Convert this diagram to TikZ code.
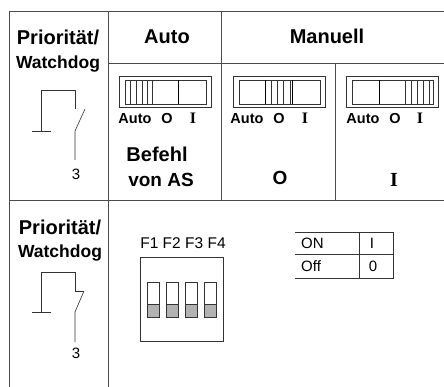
\documentclass[tikz,border=0pt]{standalone}
\usepackage{fontspec}
\setmainfont{Liberation Sans}
\newfontfamily\serifx{Liberation Serif}
\tikzset{x=1pt,y=-1pt,
 grid/.style={draw=black!70,line width=0.9pt},
 thin1/.style={draw=black!80,line width=0.6pt},
 thick1/.style={draw=black,line width=0.9pt},
 txt/.style={inner sep=0pt,anchor=base},
 head/.style={txt,font=\fontsize{20}{20}\selectfont\bfseries},
 headb/.style={txt,font=\fontsize{17.5}{18}\selectfont\bfseries},
 lab/.style={txt,font=\fontsize{14.5}{15}\selectfont\bfseries},
 labi/.style={txt,font=\fontsize{16}{16}\selectfont\bfseries\serifx},
 plain/.style={txt,font=\fontsize{15}{15}\selectfont},
 dip/.style={draw=black!80,line width=0.7pt},
 dipg/.style={draw=black!80,line width=0.7pt,fill=black!30},
 tabl/.style={draw=black!80,line width=0.8pt}}
\newcommand{\slider}[3]{%
 \begin{scope}[shift={(#1,76)}]
 \draw[thin1] (0,0) rectangle (92,31);
 \draw[thin1] (6,4) rectangle (87,28);
 \foreach \h in {#2}{\draw[thin1] (\h,4) -- (\h,28);}
 \foreach \h in {#3}{\draw[thick1] (\h,4) -- (\h,28);}
 \end{scope}}
\begin{document}
\begin{tikzpicture}
\useasboundingbox (0,0) rectangle (444,387);
\fill[white] (0,0) rectangle (444,387);
\draw[grid] (9,387) -- (9,11) -- (444,11);
\draw[grid] (108,11) -- (108,387);
\draw[grid] (221,11) -- (221,200);
\draw[grid] (108,63) -- (444,63);
\draw[grid] (9,200) -- (444,200);
\draw[grid] (335,63) -- (335,200);
% heads
\node[head] (p1) at (58,45) {Priorität/};
\node[headb] (w1) at (58,69) {Watchdog};
\node[head] (auto) at (167,44) {Auto};
\node[head] (man) at (327,44) {Manuell};
% sliders
\slider{119}{11,17,23,28,33}{59}
\slider{233}{38,44,50,57}{32,59}
\slider{346}{59,65,71,77,83}{33}
% labels
\node[lab] (a1) at (135,124) {Auto};
\node[lab] (o1) at (167,124) {O};
\node[labi] (i1) at (193,124) {I};
\node[lab] (a2) at (247,124) {Auto};
\node[lab] (o2) at (279,124) {O};
\node[labi] (i2) at (305,124) {I};
\node[lab] (a3) at (363,124) {Auto};
\node[lab] (o3) at (395,124) {O};
\node[labi] (i3) at (420,124) {I};
\node[head] (b1) at (157,162) {Befehl};
\node[head,font=\fontsize{19}{19}\selectfont\bfseries] (b2) at (161,187) {von AS};
\node[txt,font=\fontsize{19}{19}\selectfont\bfseries] (o4) at (280,185) {O};
\node[txt,font=\fontsize{20}{20}\selectfont\bfseries\serifx] (i4) at (394,187) {I};
% contact 1
\draw[thin1] (32,131) -- (51,131);
\draw[thin1] (41,131) -- (41,90) -- (75,90) -- (75,109);
\draw[thin1] (85,109) -- (75,131) -- (75,160);
\node[plain] (n3a) at (76,180) {3};
% second block
\node[head] (p2) at (60,235) {Priorität/};
\node[headb] (w2) at (60,258) {Watchdog};
\draw[thin1] (32,312) -- (51,312);
\draw[thin1] (41,312) -- (41,272) -- (75,272) -- (75,291) -- (84,291);
\draw[thin1] (84,291) -- (75,312) -- (75,342);
\node[plain] (n3b) at (76,358) {3};
\node[plain,font=\fontsize{15.5}{16}\selectfont] (f) at (183,248) {F1 F2 F3 F4};
\draw[tabl] (140,257) rectangle (223,341);
\foreach \x in {147,166,185,204}{
 \draw[dip] (\x,282) rectangle +(12,22);
 \draw[dipg] (\x,304) rectangle +(12,13);
}
% mini table
\draw[tabl] (295,232) -- (393,232) -- (393,278) -- (295,278);
\draw[tabl] (295,254) -- (393,254);
\draw[tabl] (359,232) -- (359,278);
\node[plain,anchor=base west] (on) at (301,249) {ON};
\node[plain,anchor=base west] (off) at (301,272) {Off};
\node[plain] (i5) at (372,249) {I};
\node[plain] (z) at (373,272) {0};
\end{tikzpicture}
\end{document}
